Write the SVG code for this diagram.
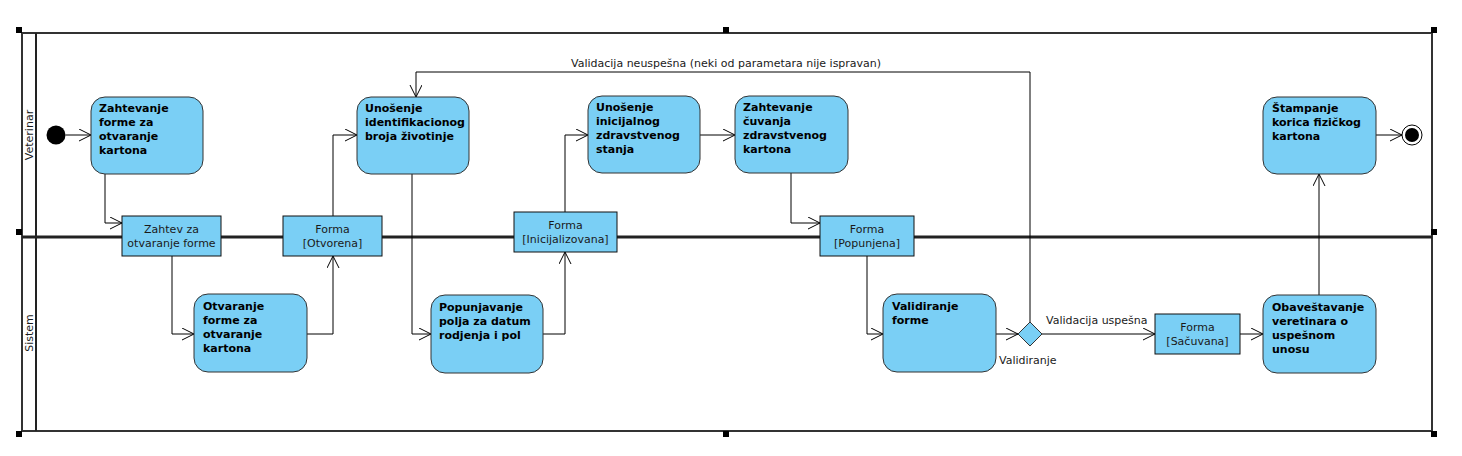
<svg xmlns="http://www.w3.org/2000/svg" width="1462" height="456" viewBox="0 0 1462 456">
<defs>
<style>
.act{fill:#7ACFF5;stroke:#333;stroke-width:1}
.obj{fill:#7ACFF5;stroke:#111;stroke-width:1}
.at{font-family:"DejaVu Sans",Verdana,sans-serif;font-size:11px;font-weight:bold;fill:#000}
.ot{font-family:"DejaVu Sans",Verdana,sans-serif;font-size:11px;fill:#1a1a1a;text-anchor:middle}
.lbl{font-family:"DejaVu Sans",Verdana,sans-serif;font-size:11px;fill:#1a1a1a}
.lane{font-family:"DejaVu Sans",Verdana,sans-serif;font-size:11px;fill:#1a1a1a;text-anchor:middle}
.edge{fill:none;stroke:#000;stroke-width:1;marker-end:url(#arr)}
.frame{fill:none;stroke:#333;stroke-width:2}
.handle{fill:#000}
</style>
<marker id="arr" markerUnits="userSpaceOnUse" markerWidth="14" markerHeight="14" refX="12" refY="6" orient="auto">
<path d="M0,0 L12,6 L0,12" fill="none" stroke="#000" stroke-width="1"/>
</marker>
</defs>
<rect width="1462" height="456" fill="#fff"/>

<g id="swimlanes">
<rect class="frame" x="22" y="33" width="1410" height="398"/>
<line x1="36" y1="33" x2="36" y2="431" stroke="#222" stroke-width="2"/>
<line x1="22" y1="237" x2="1432" y2="237" stroke="#222" stroke-width="3"/>
<text class="lane" transform="translate(33,135) rotate(-90)">Veterinar</text>
<text class="lane" transform="translate(33,333) rotate(-90)">Sistem</text>
<rect class="handle" x="16" y="27" width="6" height="6"/>
<rect class="handle" x="723" y="27" width="6" height="6"/>
<rect class="handle" x="1431" y="27" width="6" height="6"/>
<rect class="handle" x="16" y="229" width="6" height="6"/>
<rect class="handle" x="1431" y="229" width="6" height="6"/>
<rect class="handle" x="16" y="431" width="6" height="6"/>
<rect class="handle" x="723" y="431" width="6" height="6"/>
<rect class="handle" x="1431" y="431" width="6" height="6"/>
</g>

<g id="connectors">
<path class="edge" d="M65.5,135 H91"/>
<path class="edge" d="M105,174 V223 H122"/>
<path class="edge" d="M172,256 V334 H194"/>
<path class="edge" d="M307,334 H333 V256"/>
<path class="edge" d="M333,216 V135 H357"/>
<path class="edge" d="M412,174 V334 H431"/>
<path class="edge" d="M543,334 H565 V252"/>
<path class="edge" d="M565,212 V135 H588"/>
<path class="edge" d="M700,135 H735"/>
<path class="edge" d="M791,173 V223 H820"/>
<path class="edge" d="M867,256 V334 H883"/>
<path class="edge" d="M996,334 H1018"/>
<path class="edge" d="M1042,334 H1155"/>
<path class="edge" d="M1240,334 H1263"/>
<path class="edge" d="M1319,295 V174"/>
<path class="edge" d="M1376,135 H1402"/>
<path class="edge" d="M1030,322 V72 H416 V97"/>
<text class="lbl" x="571" y="67">Validacija neuspešna (neki od parametara nije ispravan)</text>
<text class="lbl" x="1046" y="324">Validacija uspešna</text>
</g>

<g id="start"><circle cx="56" cy="135" r="9.5" fill="#000"/></g>

<g id="n1">
<rect class="act" x="91" y="97" width="112" height="77" rx="14"/>
<text class="at" x="99" y="112">Zahtevanje<tspan x="99" dy="14">forme za</tspan><tspan x="99" dy="14">otvaranje</tspan><tspan x="99" dy="14">kartona</tspan></text>
</g>

<g id="o1">
<rect class="obj" x="122" y="216" width="99" height="40"/>
<text class="ot" x="171.5" y="233">Zahtev za<tspan x="171.5" dy="14">otvaranje forme</tspan></text>
</g>

<g id="n2">
<rect class="act" x="194" y="294" width="113" height="78" rx="14"/>
<text class="at" x="203" y="310">Otvaranje<tspan x="203" dy="14">forme za</tspan><tspan x="203" dy="14">otvaranje</tspan><tspan x="203" dy="14">kartona</tspan></text>
</g>

<g id="o2">
<rect class="obj" x="283" y="216" width="99" height="40"/>
<text class="ot" x="332.5" y="233">Forma<tspan x="332.5" dy="14">[Otvorena]</tspan></text>
</g>

<g id="n3">
<rect class="act" x="357" y="97" width="112" height="77" rx="14"/>
<text class="at" x="365" y="112">Unošenje<tspan x="365" dy="14">identifikacionog</tspan><tspan x="365" dy="14">broja životinje</tspan></text>
</g>

<g id="n4">
<rect class="act" x="431" y="295" width="112" height="78" rx="14"/>
<text class="at" x="439" y="311">Popunjavanje<tspan x="439" dy="14">polja za datum</tspan><tspan x="439" dy="14">rodjenja i pol</tspan></text>
</g>

<g id="o3">
<rect class="obj" x="514" y="212" width="103" height="40"/>
<text class="ot" x="565.5" y="229">Forma<tspan x="565.5" dy="14">[Inicijalizovana]</tspan></text>
</g>

<g id="n5">
<rect class="act" x="588" y="96" width="112" height="77" rx="14"/>
<text class="at" x="596" y="111">Unošenje<tspan x="596" dy="14">inicijalnog</tspan><tspan x="596" dy="14">zdravstvenog</tspan><tspan x="596" dy="14">stanja</tspan></text>
</g>

<g id="n6">
<rect class="act" x="735" y="96" width="113" height="77" rx="14"/>
<text class="at" x="743" y="111">Zahtevanje<tspan x="743" dy="14">čuvanja</tspan><tspan x="743" dy="14">zdravstvenog</tspan><tspan x="743" dy="14">kartona</tspan></text>
</g>

<g id="o4">
<rect class="obj" x="820" y="216" width="94" height="40"/>
<text class="ot" x="867" y="233">Forma<tspan x="867" dy="14">[Popunjena]</tspan></text>
</g>

<g id="n7">
<rect class="act" x="883" y="294" width="113" height="78" rx="14"/>
<text class="at" x="892" y="310">Validiranje<tspan x="892" dy="14">forme</tspan></text>
</g>

<g id="d1">
<polygon points="1030,322 1042,334 1030,346 1018,334" fill="#7ACFF5" stroke="#333" stroke-width="1"/>
<text class="lbl" x="999" y="364">Validiranje</text>
</g>

<g id="o5">
<rect class="obj" x="1155" y="314" width="85" height="40"/>
<text class="ot" x="1197.5" y="331">Forma<tspan x="1197.5" dy="14">[Sačuvana]</tspan></text>
</g>

<g id="n8">
<rect class="act" x="1263" y="295" width="113" height="78" rx="14"/>
<text class="at" x="1272" y="311">Obaveštavanje<tspan x="1272" dy="14">veretinara o</tspan><tspan x="1272" dy="14">uspešnom</tspan><tspan x="1272" dy="14">unosu</tspan></text>
</g>

<g id="n9">
<rect class="act" x="1263" y="97" width="113" height="77" rx="14"/>
<text class="at" x="1272" y="112">Štampanje<tspan x="1272" dy="14">korica fizičkog</tspan><tspan x="1272" dy="14">kartona</tspan></text>
</g>

<g id="end">
<circle cx="1412" cy="135" r="10" fill="#fff" stroke="#000" stroke-width="1"/>
<circle cx="1412" cy="135" r="7" fill="#000"/>
</g>
</svg>
